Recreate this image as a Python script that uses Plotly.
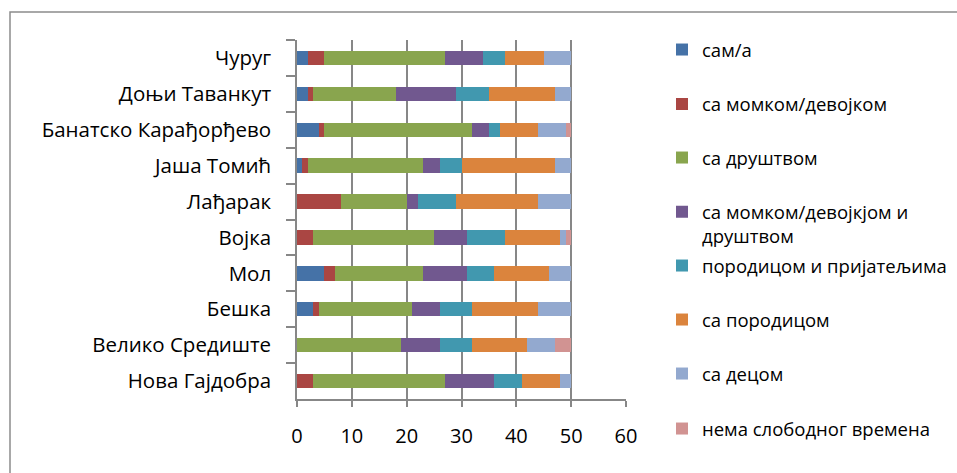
import plotly.graph_objects as go

categories = ["Чуруг", "Доњи Таванкут", "Банатско Карађорђево", "Јаша Томић", "Лађарак",
              "Војка", "Мол", "Бешка", "Велико Средиште", "Нова Гајдобра"]

series_names = ["сам/а", "са момком/девојком", "са друштвом",
                "са момком/девојкјом и<br>друштвом", "породицом и пријатељима",
                "са породицом", "са децом", "нема слободног времена"]

sam = [2, 2, 4, 1, 0, 0, 5, 3, 0, 0]
sa_momkom = [3, 1, 1, 1, 8, 3, 2, 1, 0, 3]
sa_drustvom = [22, 15, 27, 21, 12, 22, 16, 17, 19, 24]
sa_momkom_drustvom = [7, 11, 3, 3, 2, 6, 8, 5, 7, 9]
porodica_prijatelji = [4, 6, 2, 4, 7, 7, 5, 6, 6, 5]
sa_porodicom = [7, 12, 7, 17, 15, 10, 10, 12, 10, 7]
sa_decom = [5, 3, 5, 3, 6, 1, 4, 6, 5, 2]
nema_vremena = [0, 0, 1, 0, 0, 1, 0, 0, 3, 0]

x_ticks = [0, 10, 20, 30, 40, 50, 60]

series_values = [sam, sa_momkom, sa_drustvom, sa_momkom_drustvom,
                 porodica_prijatelji, sa_porodicom, sa_decom, nema_vremena]
colors = ["#4572A7", "#AA4643", "#89A54E", "#71588F", "#4198AF", "#DB843D", "#93A9CF", "#D19392"]

W, H = 957, 473
L, R, T, B = 297, 331, 40, 74
PW, PH = W - L - R, H - T - B

def px_x(px):
    return (px - L) / PW

def px_y(py):
    return (H - B - py) / PH

legend_centers = [50, 104.5, 158, 224.2, 266, 320, 374, 429]
legend_left = 662

fig = go.Figure()
layout_legends = {}
for i, (name, vals, col) in enumerate(zip(series_names, series_values, colors)):
    lname = "legend" if i == 0 else f"legend{i+1}"
    fig.add_trace(go.Bar(
        y=categories, x=vals, name=name, orientation="h",
        marker=dict(color=col, line=dict(width=0)),
        legend=lname,
    ))
    layout_legends[lname] = dict(
        x=px_x(legend_left), xanchor="left",
        y=px_y(legend_centers[i]), yanchor="middle",
        bgcolor="rgba(0,0,0,0)", borderwidth=0,
        font=dict(family="Open Sans", size=18.5, color="#000000"),
        valign="top",
    )

grid_col = "#878787"
fig.update_layout(
    width=W, height=H,
    margin=dict(l=L, r=R, t=T, b=B, autoexpand=False),
    barmode="stack", bargap=0.6,
    plot_bgcolor="white", paper_bgcolor="white",
    font=dict(family="Open Sans", color="#000000"),
    showlegend=True,
    xaxis=dict(
        range=[0, 60], tickvals=x_ticks, ticktext=[str(v) for v in x_ticks],
        showgrid=True, gridcolor=grid_col, gridwidth=1.5,
        showline=True, linecolor=grid_col, linewidth=1.5,
        ticks="outside", ticklen=6, tickcolor=grid_col, tickwidth=1.5,
        zeroline=False, tickfont=dict(size=20, color="#000000"),
        ticklabelstandoff=12,
    ),
    yaxis=dict(
        type="category", categoryorder="array", categoryarray=categories,
        autorange="reversed",
        showgrid=False, showline=True, linecolor=grid_col, linewidth=1.5,
        ticks="outside", tickson="boundaries", ticklen=9, tickcolor=grid_col, tickwidth=1.5,
        zeroline=False, tickfont=dict(size=20.5, color="#000000"),
        ticklabelstandoff=20,
    ),
    shapes=[dict(type="rect", xref="paper", yref="paper",
                 x0=px_x(10), x1=px_x(965), y0=px_y(481), y1=px_y(12),
                 line=dict(color="#8c8c8c", width=1.5), fillcolor="rgba(0,0,0,0)",
                 layer="below")],
    **layout_legends,
)

fig.write_html("out.html", config={"displayModeBar": False},
               post_script="document.body.style.margin='0';document.body.style.overflow='hidden';")
